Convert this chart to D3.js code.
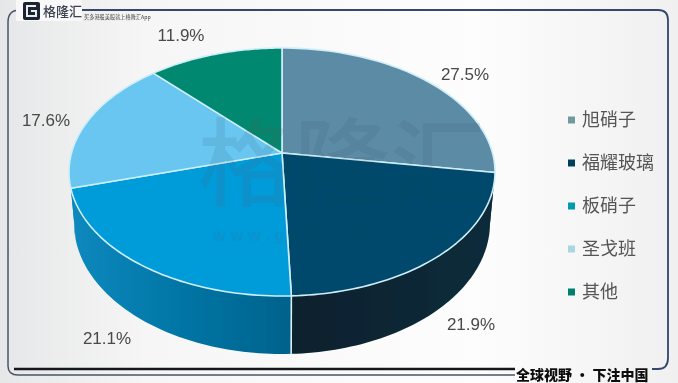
<!DOCTYPE html>
<html>
<head>
<meta charset="utf-8">
<script src="https://cdn.jsdelivr.net/npm/d3@7"></script>
<style>
  html, body { margin: 0; padding: 0; background: #fff; overflow: hidden; }
  text { font-family: "Liberation Sans", "Noto Sans CJK SC", sans-serif; }
  .cjk { font-family: "Noto Sans CJK SC", sans-serif; }
</style>
</head>
<body>
<svg id="chart" width="678" height="383"></svg>
<script>
// Data
const categories = ['旭硝子', '福耀玻璃', '板硝子', '圣戈班', '其他'];
const shares = [27.5, 21.9, 21.1, 17.6, 11.9];
const shareLabels = ['27.5%', '21.9%', '21.1%', '17.6%', '11.9%'];
const topColors = ['#5c8ba6', '#024a6c', '#059bd9', '#68c6f0', '#05896f'];

const width = 678, height = 383;
const svg = d3.select('#chart');
const defs = svg.append('defs');

// Page background, light in the middle and greyer at the sides
const bg = defs.append('linearGradient').attr('id', 'bg');
bg.append('stop').attr('offset', '0%').attr('stop-color', '#e6e7e8');
bg.append('stop').attr('offset', '22%').attr('stop-color', '#f6f6f6');
bg.append('stop').attr('offset', '70%').attr('stop-color', '#fdfdfd');
bg.append('stop').attr('offset', '100%').attr('stop-color', '#f0f0f1');
svg.append('rect').attr('width', width).attr('height', height).attr('fill', 'url(#bg)');

const soften = defs.append('filter').attr('id', 'soften');
soften.append('feGaussianBlur').attr('stdDeviation', 0.5);

const root = svg.append('g').attr('filter', 'url(#soften)');

// Frame: thin outer line, with the thick black rule above the slogan
root.append('path')
  .attr('d', 'M20,10 Q8,10 8,22 V366 Q8,375 18,375 H515')
  .attr('fill', 'none')
  .attr('stroke', '#4a5568')
  .attr('stroke-width', 1.5);
root.append('path')
  .attr('d', 'M82,10 H658 Q668,10 668,20 V358 Q668,369 658,369 H652')
  .attr('fill', 'none')
  .attr('stroke', '#34476e')
  .attr('stroke-width', 1.8);
root.append('line')
  .attr('x1', 14).attr('x2', 515).attr('y1', 369).attr('y2', 369)
  .attr('stroke', '#14181e').attr('stroke-width', 2.4);

// Top face and lower rim share a perspective tilt, so the centre sits above the ellipse centre
const tilt = 0.153;
const topX = d3.scaleLinear().domain([-1, 1]).range([69, 495]);
const topY = d3.scaleLinear().domain([-1, 1]).range([296, 48]);
const lowX = d3.scaleLinear().domain([-1, 1]).range([74, 490]);
const lowY = d3.scaleLinear().domain([-1, 1]).range([354, 92]);

// angle (radians, clockwise from the top) to a point on the unit circle after the tilt
function tilted(a) {
  const u = Math.sin(a), v = Math.cos(a);
  const d = 1 + tilt * v;
  return [u * Math.sqrt(1 - tilt * tilt) / d, (v + tilt) / d];
}
const onTop = a => { const p = tilted(a); return [topX(p[0]), topY(p[1])]; };
const onLow = a => { const p = tilted(a); return [lowX(p[0]), lowY(p[1])]; };
const rimLine = d3.line();

function arcPoints(fn, a0, a1) {
  return d3.range(0, 61).map(i => fn(a0 + (a1 - a0) * i / 60));
}

const arcs = d3.pie().sort(null).value(d => d)(shares);

// Side wall, only the part of each slice facing the viewer
const sideStops = [
  ['#0a2c3b', '#0a2c3b'],
  ['#07202c', '#0a2c3b'],
  ['#0788bd', '#05628c'],
  ['#0788bd', '#0788bd'],
  null
];
const visibleFrom = 1.5, visibleTo = 4.72;
const side = root.append('g');
arcs.forEach((d, i) => {
  const a0 = Math.max(d.startAngle, visibleFrom);
  const a1 = Math.min(d.endAngle, visibleTo);
  if (a1 <= a0 || !sideStops[i]) return;
  const id = 'side' + i;
  const grad = defs.append('linearGradient').attr('id', id)
    .attr('gradientUnits', 'userSpaceOnUse')
    .attr('x1', onLow(a1)[0]).attr('x2', onLow(a0)[0])
    .attr('y1', 0).attr('y2', 0);
  grad.append('stop').attr('offset', '0%').attr('stop-color', sideStops[i][0]);
  grad.append('stop').attr('offset', '100%').attr('stop-color', sideStops[i][1]);
  const pts = arcPoints(onTop, a0, a1).concat(arcPoints(onLow, a0, a1).reverse());
  side.append('path')
    .attr('d', rimLine(pts) + 'Z')
    .attr('fill', `url(#${id})`);
});

// Edge between the two front slices of the wall
side.append('line')
  .attr('x1', onTop(arcs[1].endAngle)[0]).attr('y1', onTop(arcs[1].endAngle)[1])
  .attr('x2', onLow(arcs[1].endAngle)[0]).attr('y2', onLow(arcs[1].endAngle)[1])
  .attr('stroke', '#d8f0f8').attr('stroke-width', 1.6);

// Top face
const apex = [topX(0), topY(tilt)];
root.append('g').selectAll('path')
  .data(arcs)
  .join('path')
  .attr('d', d => rimLine([apex].concat(arcPoints(onTop, d.startAngle, d.endAngle))) + 'Z')
  .attr('fill', (d, i) => topColors[i])
  .attr('stroke', '#cfeef8')
  .attr('stroke-width', 1.6)
  .attr('stroke-linejoin', 'round');

// Watermark
const mark = root.append('g').attr('opacity', 0.09).attr('fill', '#27394d');
mark.append('text').attr('class', 'cjk')
  .attr('x', 342).attr('y', 198)
  .attr('text-anchor', 'middle')
  .style('font-size', '96px')
  .style('font-weight', 500)
  .text('格隆汇');
mark.append('text')
  .attr('x', 333).attr('y', 241)
  .attr('text-anchor', 'middle')
  .style('font-size', '16px')
  .style('font-weight', 700)
  .style('letter-spacing', '5px')
  .text('www.gelonghui.com');

// Percentage labels
const labelAt = [[465, 74], [471, 324], [107, 338], [46, 120], [181, 35]];
root.append('g').selectAll('text')
  .data(shareLabels)
  .join('text')
  .attr('x', (d, i) => labelAt[i][0])
  .attr('y', (d, i) => labelAt[i][1])
  .attr('dy', '0.36em')
  .attr('text-anchor', 'middle')
  .attr('fill', '#484848')
  .style('font-size', '17px')
  .text(d => d);

// Legend
const legendY = d3.scalePoint().domain(categories).range([120, 292]);
const legendColors = ['#6f9a9e', '#03405c', '#059bb0', '#a9d6e0', '#05806c'];
const legend = root.append('g').selectAll('g')
  .data(categories)
  .join('g')
  .attr('transform', d => `translate(568,${legendY(d)})`);
legend.append('rect')
  .attr('y', -3.5).attr('width', 7).attr('height', 7)
  .attr('fill', (d, i) => legendColors[i]);
legend.append('text').attr('class', 'cjk')
  .attr('x', 14).attr('dy', '0.36em')
  .attr('fill', '#555')
  .style('font-size', '18px')
  .text(d => d);

// Logo block
const logo = root.append('g');
logo.append('rect').attr('x', 16).attr('y', 0).attr('width', 66).attr('height', 21).attr('fill', '#f8f8f8');
logo.append('rect').attr('x', 23).attr('y', 2).attr('width', 17).attr('height', 18).attr('rx', 2).attr('fill', '#1c2430');
logo.append('path')
  .attr('d', 'M36,6 H27 V16 H36 V11 H31')
  .attr('fill', 'none').attr('stroke', '#e8eef0').attr('stroke-width', 2);
logo.append('text').attr('class', 'cjk')
  .attr('x', 43).attr('y', 16)
  .attr('fill', '#3a4250')
  .style('font-size', '13px').style('font-weight', 500)
  .text('格隆汇');
logo.append('text').attr('class', 'cjk')
  .attr('x', 84).attr('y', 18.5)
  .attr('fill', '#444')
  .style('font-size', '5.2px')
  .text('买多港股美股就上格隆汇App');

// Slogan sits below the bottom rule
root.append('text').attr('class', 'cjk')
  .attr('x', 516).attr('y', 380)
  .attr('fill', '#111')
  .style('font-size', '14px').style('font-weight', 900)
  .text('全球视野 · 下注中国');
</script>
</body>
</html>
